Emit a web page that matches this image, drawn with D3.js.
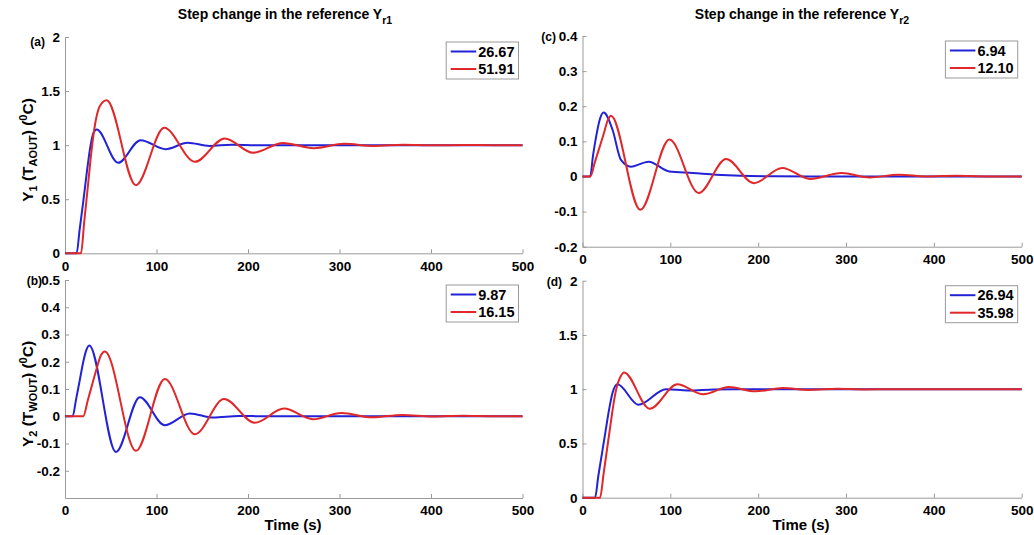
<!DOCTYPE html>
<html>
<head>
<meta charset="utf-8">
<script src="https://cdn.jsdelivr.net/npm/d3@7"></script>
<style>
  body { margin: 0; background: #fff; }
  svg text { font-family: "Liberation Sans", Arial, sans-serif; font-weight: bold; fill: #000; }
</style>
</head>
<body>
<svg id="chart" width="1034" height="535"></svg>
<script>
// ---- Axis ticks ----
const timeTicks = [0, 100, 200, 300, 400, 500];
const yTicksA = [0, 0.5, 1, 1.5, 2];
const yTickLabelsA = ["0", "0.5", "1", "1.5", "2"];
const yTicksB = [-0.2, -0.1, 0, 0.1, 0.2, 0.3, 0.4, 0.5];
const yTickLabelsB = ["-0.2", "-0.1", "0", "0.1", "0.2", "0.3", "0.4", "0.5"];
const yTicksC = [-0.2, -0.1, 0, 0.1, 0.2, 0.3, 0.4];
const yTickLabelsC = ["-0.2", "-0.1", "0", "0.1", "0.2", "0.3", "0.4"];
const yTicksD = [0, 0.5, 1, 1.5, 2];
const yTickLabelsD = ["0", "0.5", "1", "1.5", "2"];

// ---- Legend entries (blue, red) ----
const legendA = ["26.67", "51.91"];
const legendB = ["9.87", "16.15"];
const legendC = ["6.94", "12.10"];
const legendD = ["26.94", "35.98"];

// ---- Responses, [time (s), output] ----
// (a) Y1 after a step in Yr1
const respA_blue = [[0,0],[12.7,0],[16,0.22],[20,0.48],[24,0.76],[28,1.0],[31,1.11],[34.6,1.145],
  [58,0.837],[82.6,1.046],[110,0.962],[134,1.022],[158,0.993],[182,1.004],[210,1.0],[500,1.0]];
const respA_red = [[0,0],[17.5,0],[21,0.29],[25,0.62],[29,0.95],[33,1.2],[38,1.36],[45.5,1.415],
  [77.5,0.63],[108.4,1.16],[141.9,0.846],[174.6,1.062],[205.5,0.93],[238.2,1.02],[272,0.972],
  [305,1.012],[338,0.992],[370,1.004],[402,0.998],[435,1.001],[470,1.0],[500,1.0]];

// (b) Y2 after a step in Yr1
const respB_blue = [[0,0],[8.4,0],[12,0.06],[16,0.13],[20,0.2],[23,0.24],[26.5,0.26],
  [55.7,-0.131],[81.8,0.07],[109,-0.033],[136.4,0.01],[162,-0.005],[190,0.001],[220,0],[500,0]];
const respB_red = [[0,0],[20,0],[25,0.06],[30,0.12],[35,0.18],[39,0.222],[43.6,0.238],
  [77.5,-0.127],[109.1,0.137],[141.9,-0.066],[173.9,0.063],[207.4,-0.024],[239.3,0.028],
  [271,-0.011],[302,0.012],[336,-0.004],[369,0.005],[402,-0.001],[435,0.002],[470,0],[500,0]];

// (c) Y1 after a step in Yr2
const respC_blue = [[0,0],[8.8,0],[12,0.06],[16,0.12],[20,0.165],[24,0.182],[34.2,0.133],
  [43.8,0.047],[55.2,0.028],[75.3,0.042],[98.9,0.014],[125.5,0.01],[152,0.005],[180,0.002],
  [220,0.0005],[260,0],[500,0]];
const respC_red = [[0,0],[9,0],[14,0.04],[19,0.08],[24,0.12],[28.5,0.158],[32.4,0.173],
  [65.8,-0.095],[98.9,0.105],[132.3,-0.047],[163.5,0.05],[195,-0.019],[227.4,0.024],
  [259,-0.007],[295,0.0096],[327,-0.003],[360,0.005],[392,0],[425,0.002],[460,0],[500,0]];

// (d) Y2 after a step in Yr2
const respD_blue = [[0,0],[14.3,0],[18,0.2],[22,0.4],[26,0.6],[30,0.8],[34,0.96],[39.8,1.045],
  [63.6,0.857],[95,1.0],[120,0.988],[150,0.998],[175,1.0],[500,1.0]];
const respD_red = [[0,0],[20,0],[24,0.22],[28,0.45],[32,0.68],[36,0.9],[40,1.05],[43.5,1.12],
  [47.3,1.155],[76.5,0.82],[108,1.045],[137.5,0.953],[166.6,1.02],[197,0.98],[228,1.01],
  [258,0.993],[290,1.004],[320,0.998],[350,1.0],[500,1.0]];

const BLUE = "#2222d6";
const RED = "#e0282a";
const AXIS = "#9a9a9a";

const svg = d3.select("#chart");

const panels = [
  { tag: "(a)", box: [65, 522.5, 37, 253.3], yDomain: [0, 2], yTicks: yTicksA, yLabels: yTickLabelsA,
    blue: respA_blue, red: respA_red, legend: legendA, tagPos: [45, 46] },
  { tag: "(b)", box: [65, 522.5, 280, 498], yDomain: [-0.3, 0.5], yTicks: yTicksB, yLabels: yTickLabelsB,
    blue: respB_blue, red: respB_red, legend: legendB, tagPos: [42, 285] },
  { tag: "(c)", box: [582.5, 1021.7, 36, 246.7], yDomain: [-0.2, 0.4], yTicks: yTicksC, yLabels: yTickLabelsC,
    blue: respC_blue, red: respC_red, legend: legendC, tagPos: [556, 41] },
  { tag: "(d)", box: [582.5, 1021.7, 280.7, 497.7], yDomain: [0, 2], yTicks: yTicksD, yLabels: yTickLabelsD,
    blue: respD_blue, red: respD_red, legend: legendD, tagPos: [562, 286] }
];

function drawPanel(p) {
  const [left, right, top, bottom] = p.box;
  const x = d3.scaleLinear().domain([0, 500]).range([left, right]);
  const y = d3.scaleLinear().domain(p.yDomain).range([bottom, top]);
  const g = svg.append("g");

  // axes: ticks point into the plot
  const xAxis = d3.axisBottom(x).tickValues(timeTicks).tickFormat(d3.format("d"))
    .tickSizeInner(-4).tickSizeOuter(0).tickPadding(6);
  const yAxis = d3.axisLeft(y).tickValues(p.yTicks).tickFormat((d, i) => p.yLabels[i])
    .tickSizeInner(-4).tickSizeOuter(0).tickPadding(5);

  const gx = g.append("g").attr("transform", `translate(0,${bottom})`).call(xAxis);
  const gy = g.append("g").attr("transform", `translate(${left},0)`).call(yAxis);
  [gx, gy].forEach(a => {
    a.select(".domain").attr("stroke", AXIS).attr("stroke-width", 1);
    a.selectAll(".tick line").attr("stroke", AXIS);
    a.selectAll(".tick text").attr("font-size", 13.5).attr("font-family", null).attr("fill", "#000");
  });
  gx.selectAll(".tick text").attr("dy", "0.85em");

  // response curves
  const line = d3.line().x(d => x(d[0])).y(d => y(d[1])).curve(d3.curveMonotoneX);
  g.append("path").datum(p.blue).attr("d", line)
    .attr("fill", "none").attr("stroke", BLUE).attr("stroke-width", 2);
  g.append("path").datum(p.red).attr("d", line)
    .attr("fill", "none").attr("stroke", RED).attr("stroke-width", 2);

  // legend
  const lg = g.append("g");
  const texts = p.legend.map((t, i) => lg.append("text").attr("font-size", 14.5).text(t));
  const maxW = d3.max(texts, t => t.node().getComputedTextLength());
  const bw = 32 + maxW + 4, bh = 37;
  const bx = right - 4 - bw, by = top + 5;
  lg.insert("rect", "text").attr("x", bx).attr("y", by).attr("width", bw).attr("height", bh)
    .attr("fill", "#fff").attr("stroke", AXIS).attr("stroke-width", 1);
  [BLUE, RED].forEach((c, i) => {
    const cy = by + 9.5 + i * 17.5;
    lg.append("line").attr("x1", bx + 4.5).attr("x2", bx + 30).attr("y1", cy).attr("y2", cy)
      .attr("stroke", c).attr("stroke-width", 2);
    texts[i].attr("x", bx + 32).attr("y", cy).attr("dy", "0.36em");
  });

  // panel tag
  svg.append("text").attr("x", p.tagPos[0]).attr("y", p.tagPos[1])
    .attr("text-anchor", "end").attr("font-size", 12).text(p.tag);

  return { x, y };
}

panels.forEach(drawPanel);

// titles with subscripts
function title(cx, sub) {
  const t = svg.append("text").attr("x", cx).attr("y", 19).attr("text-anchor", "middle").attr("font-size", 14);
  t.append("tspan").text("Step change in the reference Y");
  t.append("tspan").attr("dy", 5).attr("font-size", 10.5).text(sub);
}
title(285, "r1");
title(802, "r2");

// time labels
[[293, 530], [801, 530]].forEach(([cx, cy]) =>
  svg.append("text").attr("x", cx).attr("y", cy).attr("text-anchor", "middle").attr("font-size", 15).text("Time (s)"));

// rotated output labels
function yLabel(cx, cy, idx, subT) {
  const t = svg.append("text").attr("transform", `translate(${cx},${cy}) rotate(-90)`)
    .attr("text-anchor", "middle").attr("font-size", 15.5);
  t.append("tspan").text("Y");
  t.append("tspan").attr("dy", 4).attr("font-size", 11).text(idx);
  t.append("tspan").attr("dy", -4).text(" (T");
  t.append("tspan").attr("dy", 4).attr("font-size", 11).text(subT);
  t.append("tspan").attr("dy", -4).text(") (");
  t.append("tspan").attr("dy", -6).attr("font-size", 11).text("0");
  t.append("tspan").attr("dy", 6).text("C)");
}
yLabel(33, 150, "1", "AOUT");
yLabel(33, 394, "2", "WOUT");
</script>
</body>
</html>
